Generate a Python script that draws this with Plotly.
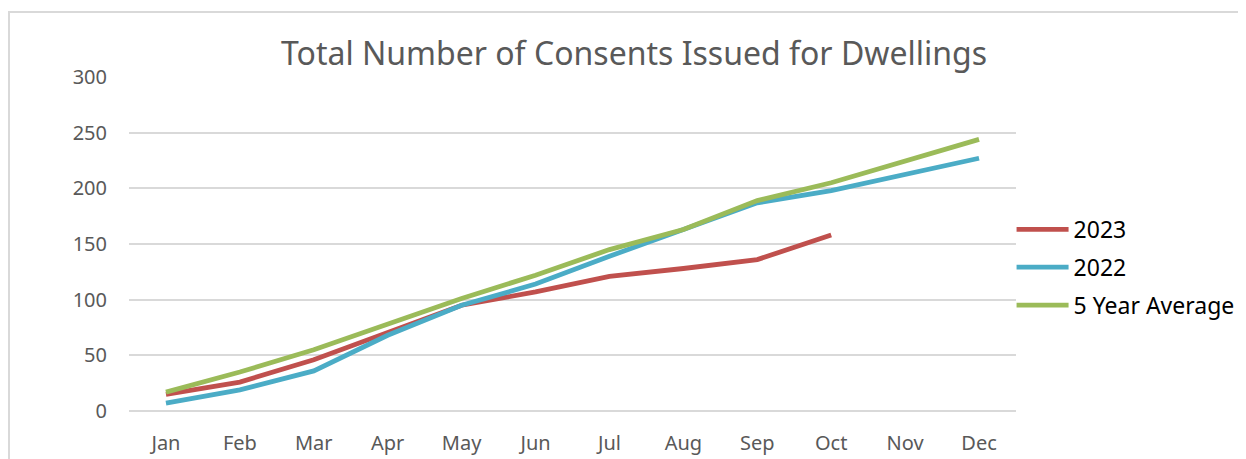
import plotly.graph_objects as go

months = ["Jan", "Feb", "Mar", "Apr", "May", "Jun", "Jul", "Aug", "Sep", "Oct", "Nov", "Dec"]
y2023 = [15, 26, 46, 71, 95, 107, 121, 128, 136, 158]
y2022 = [7, 19, 36, 68, 95, 114, 139, 163, 187, 198, 212, 227]
avg5 = [17, 35, 55, 78, 101, 122, 145, 163, 189, 205, 225, 244]
y_ticks = [0, 50, 100, 150, 200, 250, 300]

series = [
    ("2023", months[:len(y2023)], y2023, "#C0504D"),
    ("2022", months, y2022, "#4BACC6"),
    ("5 Year Average", months, avg5, "#9BBB59"),
]

fig = go.Figure()
for name, xs, ys, col in series:
    fig.add_trace(go.Scatter(x=xs, y=ys, name=name, mode="lines", legendgroup=name,
                             line=dict(color=col, width=4.8, shape="linear")))

# page has an 8px body margin; work in page coordinates and subtract it
OFF = 8
W, H = 1246 - OFF, 459 - OFF
L, R, T, B = 129 - OFF, 1016 - OFF, 77 - OFF, 411 - OFF
fig.update_layout(
    width=W, height=H,
    margin=dict(l=L, r=W - R, t=T, b=H - B, autoexpand=False),
    paper_bgcolor="white", plot_bgcolor="white",
    font=dict(family="Noto Sans", color="#595959"),
    title=dict(text="Total Number of Consents Issued for Dwellings",
               font=dict(size=32, color="#595959", family="Noto Sans"),
               x=(634 - OFF) / W, xanchor="center", y=1 - (54 - OFF) / H, yanchor="middle",
               automargin=False),
    xaxis=dict(categoryorder="array", categoryarray=months, range=[-0.5, 11.5],
               showgrid=False, showline=False, zeroline=False, ticks="", automargin=False,
               tickfont=dict(size=20, color="#595959"), ticklabelstandoff=18),
    yaxis=dict(range=[0, 300], tickvals=y_ticks, showgrid=True, automargin=False,
               gridcolor="#D9D9D9", gridwidth=1.5, zeroline=True,
               zerolinecolor="#D9D9D9", zerolinewidth=1.5, showline=False,
               ticks="", tickfont=dict(size=20, color="#595959"),
               ticklabelstandoff=21),
    legend=dict(x=0.995, xanchor="left", y=1 - (265 - OFF) / H, yref="paper",
                yanchor="middle", font=dict(size=23, color="#000000"),
                tracegroupgap=5, itemwidth=52, bgcolor="rgba(0,0,0,0)"),
    shapes=[
        dict(type="line", xref="paper", yref="paper",
             x0=(0 - L) / (R - L), x1=(W + 5 - L) / (R - L),
             y0=(B - (12 - OFF)) / (B - T), y1=(B - (12 - OFF)) / (B - T),
             line=dict(color="#D9D9D9", width=2)),
        dict(type="line", xref="paper", yref="paper",
             x0=(1 - L) / (R - L), x1=(1 - L) / (R - L),
             y0=(B - (12 - OFF)) / (B - T), y1=(B - H - 5) / (B - T),
             line=dict(color="#D9D9D9", width=2)),
    ],
)

fig.write_html("out.html")
